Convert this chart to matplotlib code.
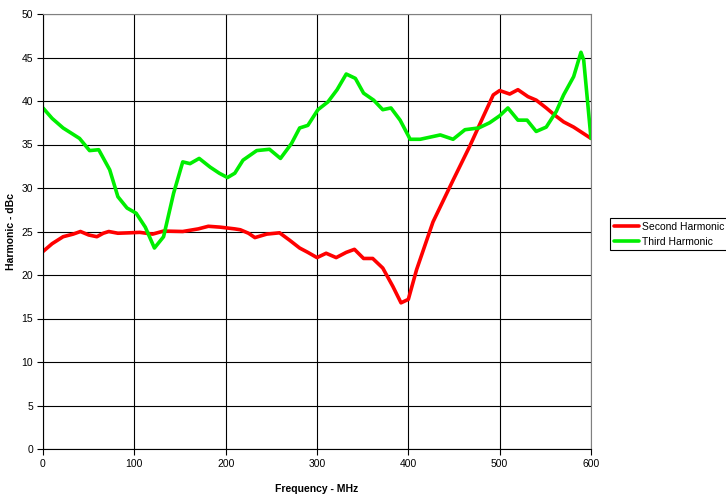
import matplotlib
matplotlib.use("Agg")
import matplotlib.pyplot as plt

plt.rcParams['font.family'] = ['Liberation Sans', 'DejaVu Sans']

# Second harmonic level vs frequency
freq_2nd = [0, 10, 22, 33, 41, 50, 59, 66, 72, 82, 95, 106, 120, 132, 153, 170,
            181, 194, 210, 216, 225, 232, 245, 259, 270, 281, 290, 300, 310, 321,
            332, 341, 351, 361, 372, 383, 392, 400, 409, 427, 449, 467, 482, 493,
            500, 511, 520, 531, 540, 551, 560, 570, 581, 600]
second = [22.7, 23.6, 24.4, 24.7, 25.0, 24.6, 24.4, 24.8, 25.0, 24.8, 24.85, 24.9,
          24.7, 25.05, 25.0, 25.3, 25.6, 25.5, 25.3, 25.2, 24.8, 24.3, 24.7, 24.85,
          24.0, 23.1, 22.6, 22.0, 22.5, 22.0, 22.6, 22.95, 21.9, 21.9, 20.8, 18.7,
          16.8, 17.2, 20.6, 26.1, 30.9, 34.75, 38.2, 40.7, 41.2, 40.8, 41.3, 40.5,
          40.1, 39.2, 38.4, 37.6, 37.0, 35.7]

# Third harmonic level vs frequency
freq_3rd = [0, 10, 22, 40, 51, 61, 73, 82, 92, 102, 112, 122, 132, 143, 153, 161,
            171, 183, 193, 202, 210, 219, 234, 248, 260, 272, 281, 290, 301, 312,
            322, 332, 342, 351, 362, 372, 381, 391, 402, 413, 435, 449, 462, 477,
            489, 500, 509, 520, 530, 540, 551, 562, 570, 581, 589, 592, 600]
third = [39.2, 38.0, 36.9, 35.7, 34.3, 34.4, 32.1, 29.0, 27.7, 27.1, 25.5, 23.1,
         24.4, 29.4, 33.0, 32.8, 33.4, 32.4, 31.7, 31.2, 31.7, 33.2, 34.3, 34.45,
         33.4, 35.1, 36.9, 37.2, 39.0, 39.9, 41.3, 43.1, 42.6, 40.9, 40.1, 39.0,
         39.2, 37.8, 35.6, 35.6, 36.1, 35.6, 36.7, 36.9, 37.5, 38.3, 39.2, 37.8,
         37.8, 36.5, 37.0, 38.8, 40.7, 42.8, 45.6, 44.7, 35.7]

fig = plt.figure(figsize=(7.26, 4.97), dpi=100)
ax = fig.add_axes([43 / 726, 48 / 497, 548 / 726, 435 / 497])

ax.plot(freq_2nd, second, color='#ff0000', lw=2.6, label='Second Harmonic',
        solid_joinstyle='round', solid_capstyle='round')
ax.plot(freq_3rd, third, color='#00ee00', lw=2.6, label='Third Harmonic',
        solid_joinstyle='round', solid_capstyle='round')

ax.set_xlim(0, 600)
ax.set_ylim(0, 50)
ax.set_xticks(range(0, 601, 100))
ax.set_yticks(range(0, 51, 5))
ax.grid(True, color='black', lw=0.8)
ax.set_axisbelow(True)
for s in ax.spines.values():
    s.set_color('#808080')
    s.set_linewidth(0.8)
ax.spines['left'].set_color('black')
ax.spines['bottom'].set_color('black')
ax.tick_params(direction='out', length=4, width=0.8, labelsize=7.5, pad=3)

ax.set_xlabel('Frequency - MHz', fontsize=7.5, fontweight='bold', labelpad=11)
ax.set_ylabel('Harmonic - dBc', fontsize=7.5, fontweight='bold', labelpad=4)

leg = ax.legend(loc='upper left', bbox_to_anchor=(610 / 726, 279 / 497),
                bbox_transform=fig.transFigure, fontsize=7.5, frameon=True,
                fancybox=False, edgecolor='black', framealpha=1,
                handlelength=2.4, handletextpad=0.3, labelspacing=0.5,
                borderpad=0.35, borderaxespad=0)
leg.get_frame().set_linewidth(0.8)

fig.savefig('out.png', dpi=100)
